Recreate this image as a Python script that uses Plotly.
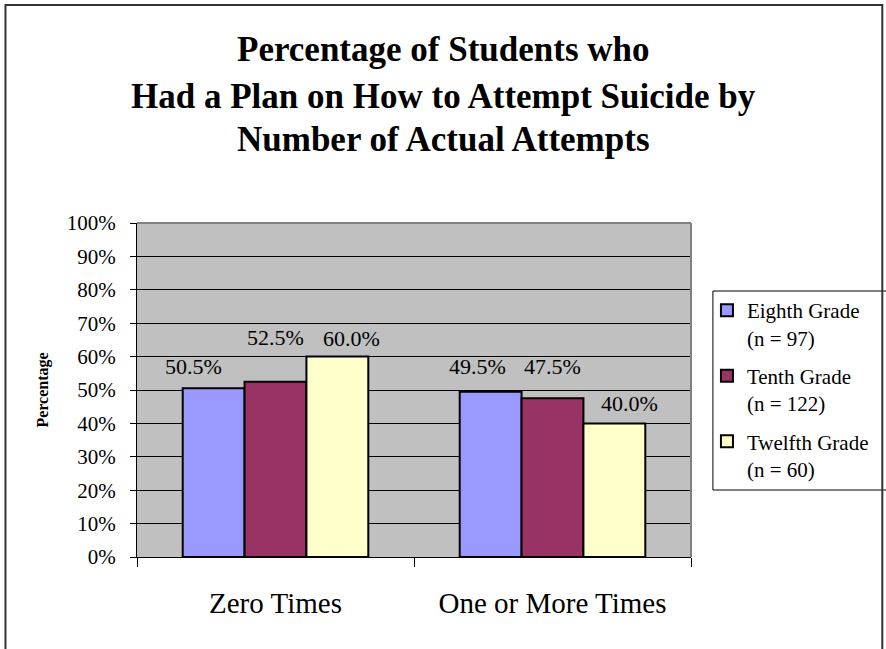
import plotly.graph_objects as go

categories = ["Zero Times", "One or More Times"]
series_names = ["Eighth Grade<br>(n = 97)", "Tenth Grade<br>(n = 122)", "Twelfth Grade<br>(n = 60)"]
eighth = [50.5, 49.5]
tenth = [52.5, 47.5]
twelfth = [60.0, 40.0]
colors = ["#9999FF", "#993366", "#FFFFCC"]
tick_vals = [0, 10, 20, 30, 40, 50, 60, 70, 80, 90, 100]
tick_text = ["0%", "10%", "20%", "30%", "40%", "50%", "60%", "70%", "80%", "90%", "100%"]
title_lines = ["Percentage of Students who",
               "Had a Plan on How to Attempt Suicide by",
               "Number of Actual Attempts"]

# label nudges (px) mimicking the original's label collision avoidance: [series][category]
label_dx = [[-20, -13], [0, 0], [14, 15]]
label_dy = [[7, 11], [30, 17], [4, 5]]

W, H = 886, 649
L, R, T, B = 137, 693, 223, 557
pw, ph = R - L, B - T
BARGAP = 0.33

def fx(x):
    return (x - L) / pw

def fy(y):
    return (B - y) / ph

FONT = "Liberation Serif"

fig = go.Figure()
all_series = [eighth, tenth, twelfth]
for i, (name, vals, col) in enumerate(zip(series_names, all_series, colors)):
    fig.add_trace(go.Bar(
        x=categories, y=vals, name=name, legendgroup=f"g{i}",
        marker=dict(color=col, line=dict(color="black", width=2)),
        cliponaxis=False,
    ))

# data labels anchored to each bar's value
cat_w = pw / len(categories)
bar_w = cat_w * (1 - BARGAP) / len(all_series)
for i, vals in enumerate(all_series):
    for j, (cat, v) in enumerate(zip(categories, vals)):
        fig.add_annotation(
            x=cat, y=v, xref="x", yref="y", text=f"{v:.1f}%",
            showarrow=False, xanchor="center", yanchor="bottom",
            xshift=(i - 1) * bar_w + label_dx[i][j], yshift=label_dy[i][j],
            font=dict(family=FONT, size=22, color="black"),
        )

fig.update_layout(
    width=W, height=H,
    margin=dict(l=L, r=W - R, t=T, b=H - B),
    paper_bgcolor="white",
    plot_bgcolor="#C0C0C0",
    barmode="group", bargap=BARGAP, bargroupgap=0,
    font=dict(family=FONT, color="black"),
    legend=dict(
        x=fx(709), y=fy(290), xanchor="left", yanchor="top",
        bgcolor="rgba(0,0,0,0)", borderwidth=0,
        font=dict(family=FONT, size=21, color="black"),
        tracegroupgap=8, itemwidth=30, valign="top",
    ),
    showlegend=True,
    xaxis=dict(
        showline=True, linecolor="black", linewidth=1,
        ticks="outside", ticklen=9, tickcolor="black", tickson="boundaries",
        tickfont=dict(family=FONT, size=29, color="black"),
        ticklabelstandoff=20,
        showgrid=False,
    ),
    yaxis=dict(
        range=[0, 100], tickmode="array", tickvals=tick_vals, ticktext=tick_text,
        showline=True, linecolor="black", linewidth=1,
        ticks="outside", ticklen=6, tickcolor="black",
        tickfont=dict(family=FONT, size=21, color="black"),
        ticklabelstandoff=10,
        showgrid=True, gridcolor="black", gridwidth=1,
        zeroline=False,
        title=dict(text="<b>Percentage</b>", font=dict(family=FONT, size=16, color="black"), standoff=14),
    ),
)

# title lines
for line, yc in zip(title_lines, [49, 96, 139]):
    fig.add_annotation(text=f"<b>{line}</b>", xref="paper", yref="paper",
                       x=fx(445), y=fy(yc), xanchor="center", yanchor="middle",
                       showarrow=False, font=dict(family=FONT, size=35, color="black"))

# plot-area border on top and right (gray)
fig.add_shape(type="line", xref="paper", yref="paper", x0=0, x1=1, y0=1, y1=1,
              line=dict(color="#808080", width=2))
fig.add_shape(type="line", xref="paper", yref="paper", x0=1, x1=1, y0=0, y1=1,
              line=dict(color="#808080", width=2))
# legend box (extends past right edge as in reference)
fig.add_shape(type="rect", xref="paper", yref="paper",
              x0=fx(715), x1=fx(905), y0=fy(490), y1=fy(291),
              line=dict(color="black", width=1), fillcolor="white", layer="below")
# outer chart border
fig.add_shape(type="rect", xref="paper", yref="paper",
              x0=fx(5), x1=fx(885), y0=fy(670), y1=fy(5),
              line=dict(color="#333333", width=2), fillcolor="rgba(0,0,0,0)")

fig.write_html("out.html", config={"displayModeBar": False},
               post_script="document.body.style.margin='0px';")
